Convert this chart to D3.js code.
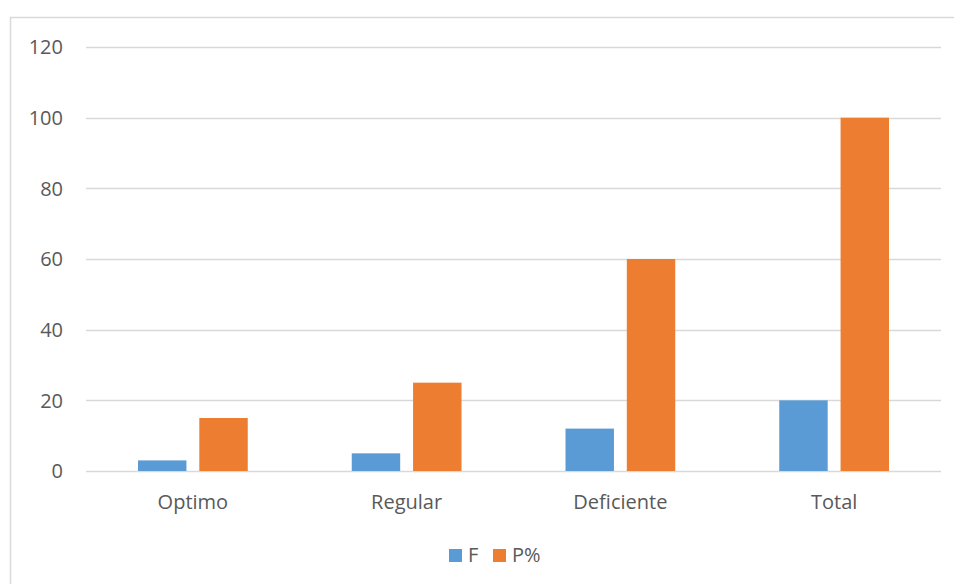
<!DOCTYPE html>
<html>
<head>
<meta charset="utf-8">
<script src="https://cdn.jsdelivr.net/npm/d3@7"></script>
<style>
  body { margin: 0; background: #fff; }
  svg { display: block; font-family: "Open Sans", sans-serif; }
</style>
</head>
<body>
<div id="chart"></div>
<script>
const categories = ["Optimo", "Regular", "Deficiente", "Total"];
const seriesNames = ["F", "P%"];
const valuesF = [3, 5, 12, 20];
const valuesP = [15, 25, 60, 100];
const yTicks = [0, 20, 40, 60, 80, 100, 120];

const CF = "#5B9BD5";
const CP = "#ED7D31";
const TEXT = "#595959";
const GRID = "#D9D9D9";

const width = 954;
const height = 584;
const margin = {left: 86, right: 13, top: 47, bottom: 113};

const svg = d3.select("#chart")
    .append("svg")
    .attr("width", width)
    .attr("height", height);

// marco del grafico
svg.append("rect")
    .attr("x", 10.5)
    .attr("y", 17.5)
    .attr("width", width)
    .attr("height", height)
    .attr("fill", "none")
    .attr("stroke", GRID)
    .attr("stroke-width", 1.5);

const x0 = d3.scaleBand()
    .domain(categories)
    .range([margin.left, width - margin.right])
    .paddingInner(0)
    .paddingOuter(0);

const x1 = d3.scaleBand()
    .domain(seriesNames)
    .range([52, x0.bandwidth() - 52])
    .paddingInner(0.21);

const y = d3.scaleLinear()
    .domain([0, 120])
    .range([height - margin.bottom, margin.top]);

// lineas de cuadricula
svg.append("g")
    .selectAll("line")
    .data(yTicks)
    .join("line")
    .attr("x1", margin.left)
    .attr("x2", width - margin.right)
    .attr("y1", d => Math.round(y(d)) + 0.5)
    .attr("y2", d => Math.round(y(d)) + 0.5)
    .attr("stroke", GRID)
    .attr("stroke-width", 1.3);

// etiquetas eje y
svg.append("g")
    .selectAll("text")
    .data(yTicks)
    .join("text")
    .attr("x", 63)
    .attr("y", d => y(d))
    .attr("dy", "0.36em")
    .attr("text-anchor", "end")
    .attr("fill", TEXT)
    .attr("font-size", 20)
    .text(d => d);

const rows = categories.map((c, i) => ({cat: c, vals: [valuesF[i], valuesP[i]]}));

const groups = svg.append("g")
    .selectAll("g")
    .data(rows)
    .join("g")
    .attr("transform", d => `translate(${x0(d.cat)},0)`);

groups.selectAll("rect")
    .data(d => d.vals.map((v, j) => ({name: seriesNames[j], value: v})))
    .join("rect")
    .attr("x", d => x1(d.name))
    .attr("width", x1.bandwidth())
    .attr("y", d => y(d.value))
    .attr("height", d => y(0) - y(d.value))
    .attr("fill", d => d.name == "F" ? CF : CP);

// etiquetas eje x
svg.append("g")
    .selectAll("text")
    .data(categories)
    .join("text")
    .attr("x", d => x0(d) + x0.bandwidth() / 2)
    .attr("y", 509)
    .attr("text-anchor", "middle")
    .attr("fill", TEXT)
    .attr("font-size", 20)
    .text(d => d);

// leyenda
const legend = svg.append("g");
const legendX = [449, 493];
seriesNames.forEach((s, i) => {
    legend.append("rect")
        .attr("x", legendX[i])
        .attr("y", 549)
        .attr("width", 13)
        .attr("height", 13)
        .attr("fill", i == 0 ? CF : CP);
    legend.append("text")
        .attr("x", legendX[i] + 19)
        .attr("y", 562)
        .attr("fill", TEXT)
        .attr("font-size", 20)
        .text(s);
});
</script>
</body>
</html>
